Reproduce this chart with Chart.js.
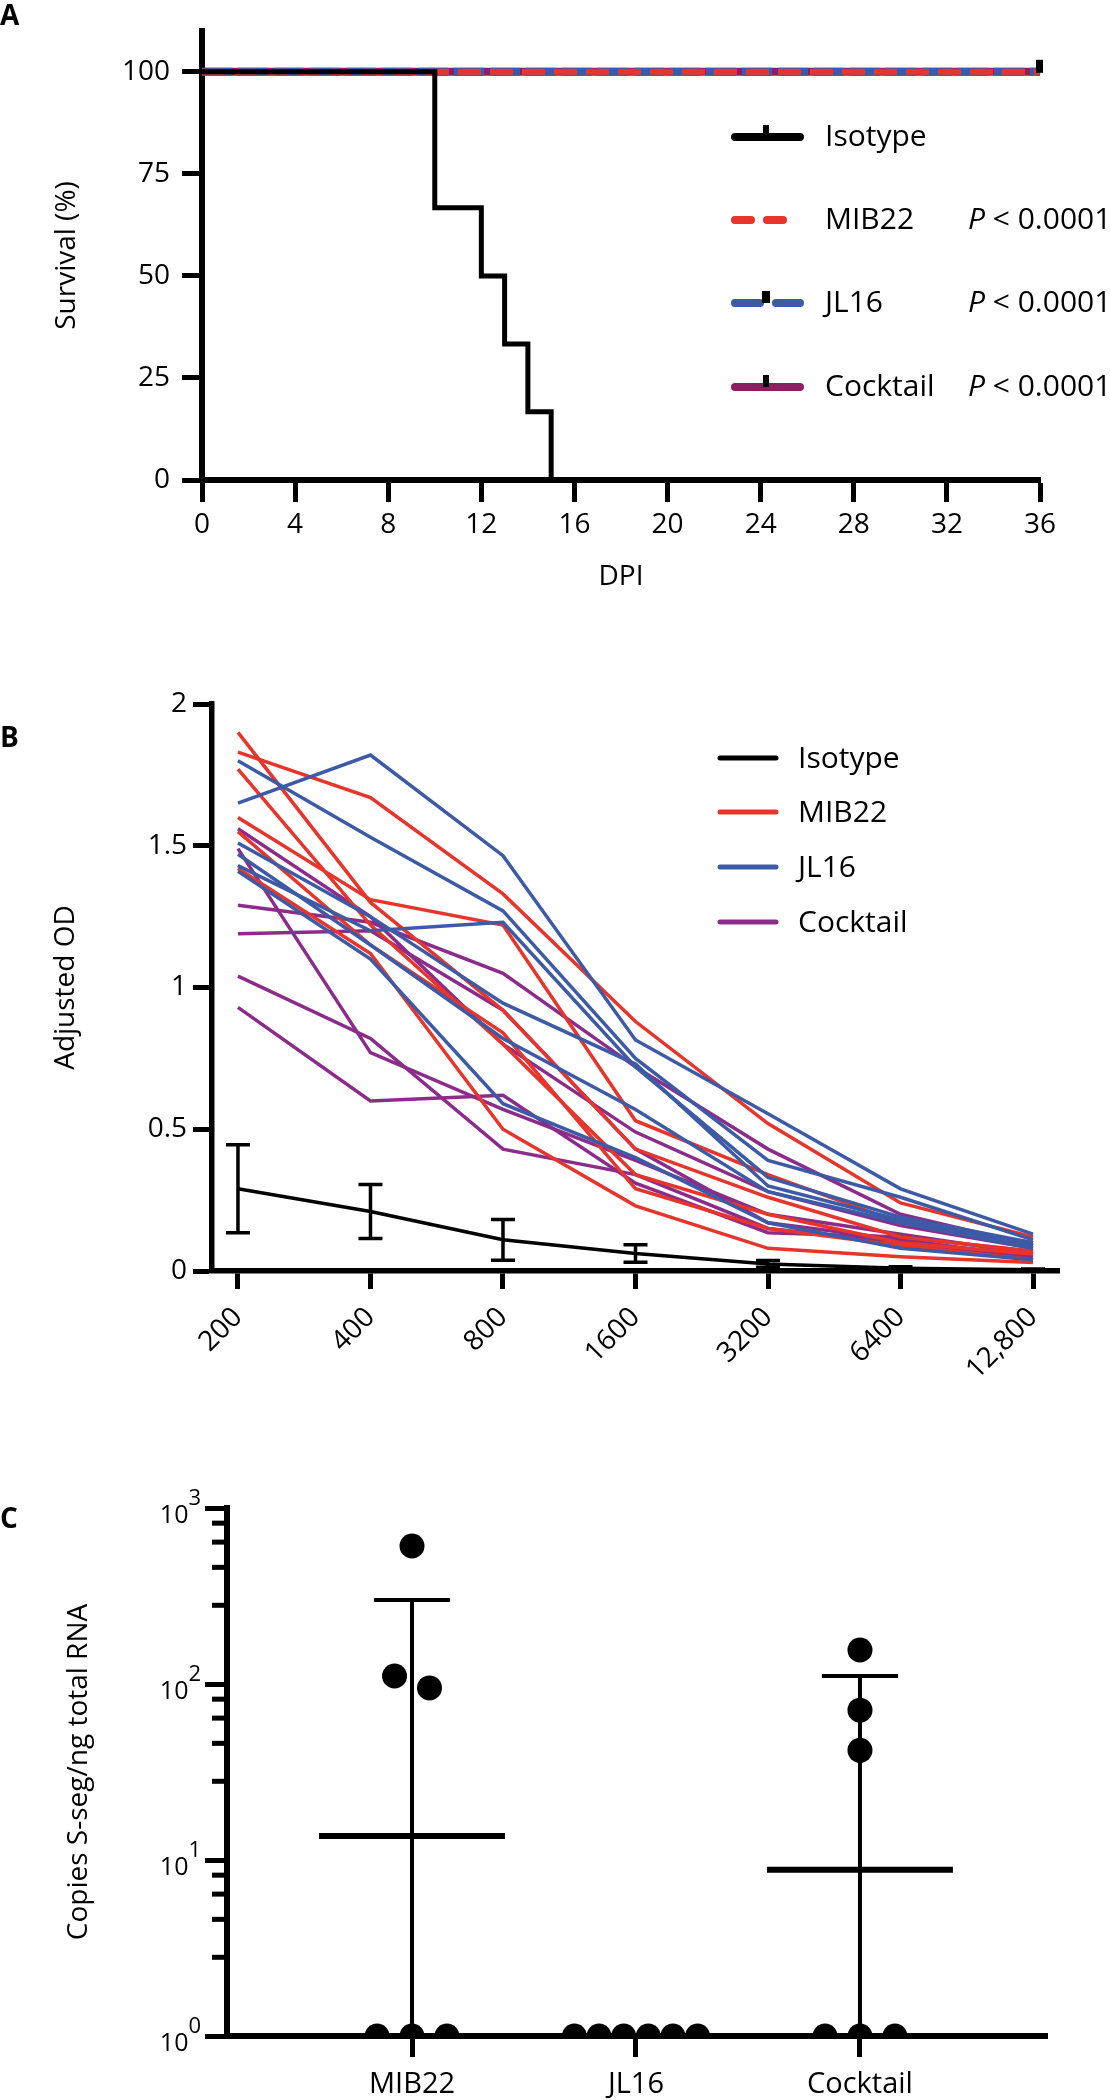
<!DOCTYPE html>
<html>
<head>
<meta charset="utf-8">
<script src="https://cdn.jsdelivr.net/npm/chart.js@4/dist/chart.umd.min.js"></script>
<style>
body { margin: 0; background: #fff; }
#wrap { position: relative; width: 1110px; height: 2100px; overflow: hidden; }
canvas { position: absolute; left: 0; }
</style>
</head>
<body>
<div id="wrap">
	<canvas id="survivalChart" width="1110" height="620" style="top:0px"></canvas>
	<canvas id="odChart" width="1110" height="780" style="top:620px"></canvas>
	<canvas id="rnaChart" width="1110" height="700" style="top:1400px"></canvas>
</div>
<script>
const FONT = "'Open Sans', 'Noto Sans', sans-serif";
Chart.defaults.font.family = FONT;
Chart.defaults.color = '#000';

const RED = '#e8342a';
const BLUE = '#3d5aa7';
const PURPLE = '#8b2c8a';
const MAGENTA = '#8e1d62';

// ---- A : survival
const survivalNames = ['Isotype', 'MIB22', 'JL16', 'Cocktail'];
const survivalP = ['', '< 0.0001', '< 0.0001', '< 0.0001'];
const isotypeDays = [0, 10, 12, 13, 14, 15];
const isotypeSurvival = [100, 66.7, 50, 33.3, 16.7, 0];
const treatedDays = [0, 36];
const treatedSurvival = [100, 100];
const survivalTicks = [0, 25, 50, 75, 100];

// ---- B : ELISA, one row per animal
const dilutions = ['200', '400', '800', '1600', '3200', '6400', '12,800'];
const mib22OD = [
	[1.83, 1.67, 1.33, 0.88, 0.52, 0.24, 0.12],
	[1.60, 1.31, 1.22, 0.53, 0.34, 0.17, 0.10],
	[1.90, 1.30, 0.92, 0.43, 0.26, 0.12, 0.07],
	[1.77, 1.22, 0.80, 0.34, 0.20, 0.10, 0.06],
	[1.55, 1.15, 0.84, 0.29, 0.15, 0.09, 0.04],
	[1.42, 1.12, 0.50, 0.23, 0.08, 0.05, 0.03]
];
const jl16OD = [
	[1.65, 1.82, 1.465, 0.815, 0.555, 0.29, 0.13],
	[1.80, 1.53, 1.27, 0.75, 0.39, 0.26, 0.11],
	[1.43, 1.20, 1.23, 0.72, 0.33, 0.19, 0.10],
	[1.51, 1.25, 0.945, 0.73, 0.30, 0.18, 0.09],
	[1.47, 1.15, 0.82, 0.57, 0.28, 0.17, 0.08],
	[1.41, 1.10, 0.59, 0.40, 0.17, 0.08, 0.04]
];
const cocktailOD = [
	[1.56, 1.25, 0.80, 0.49, 0.28, 0.16, 0.08],
	[1.49, 0.77, 0.57, 0.39, 0.20, 0.13, 0.06],
	[1.29, 1.23, 1.05, 0.72, 0.43, 0.20, 0.09],
	[1.19, 1.20, 0.92, 0.43, 0.17, 0.11, 0.05],
	[1.04, 0.82, 0.43, 0.34, 0.15, 0.10, 0.04],
	[0.93, 0.60, 0.62, 0.31, 0.135, 0.12, 0.07]
];
const isotypeMean = [0.29, 0.21, 0.11, 0.062, 0.025, 0.01, 0.004];
const isotypeSD = [0.155, 0.095, 0.072, 0.031, 0.012, 0.005, 0.003];
const odNames = ['Isotype', 'MIB22', 'JL16', 'Cocktail'];
const odColors = ['#000', RED, BLUE, PURPLE];
const odTicks = [0, 0.5, 1, 1.5, 2];

// ---- C : viral RNA
const rnaGroups = ['MIB22', 'JL16', 'Cocktail'];
const mib22Copies = [1, 1, 1, 608, 111, 95];
const jl16Copies = [1, 1, 1, 1, 1, 1];
const cocktailCopies = [1, 1, 1, 156, 71, 42];
const rnaGeoMean = [13.7, 1, 8.8];
const rnaUpper = [300, 1, 111];
const logTicks = [1, 10, 100, 1000];

const tickFont = { family: FONT, size: 28 };

function xy(xs, ys)
{
	return xs.map((x, i) => ({ x: x, y: ys[i] }));
}

// points that would sit on top of each other are put side by side
function spreadX(vals, idx)
{
	const used = vals.map(() => false);
	const out = [];
	vals.forEach((v, i) => {
		if (used[i]) return;
		const grp = vals.map((w, j) => j).filter(j => !used[j] && Math.abs(Math.log10(vals[j]) - Math.log10(v)) < 0.12);
		grp.forEach(j => used[j] = true);
		const step = grp.length > 3 ? 0.11 : 0.156;
		grp.forEach((j, k) => out.push({ x: idx + (k - (grp.length - 1) / 2) * step, y: vals[j] }));
	});
	return out;
}

function tickGrid(len, w)
{
	return { drawOnChartArea: false, drawTicks: true, tickLength: len, tickWidth: w, tickColor: '#000', color: '#000' };
}

function panelLetter(ctx, letter, x, y)
{
	ctx.font = 'bold 28px ' + FONT;
	ctx.fillStyle = '#000';
	ctx.textAlign = 'left';
	ctx.textBaseline = 'middle';
	ctx.fillText(letter, x, y);
}

/* ---------------- A ---------------- */
const survivalExtras = {
	id: 'survivalExtras',
	afterDatasetsDraw(chart)
	{
		const { ctx, scales: { x, y } } = chart;
		const cx = x.getPixelForValue(treatedDays[treatedDays.length - 1]);
		const cy = y.getPixelForValue(treatedSurvival[treatedSurvival.length - 1]);
		ctx.save();
		ctx.fillStyle = '#000';
		ctx.fillRect(cx - 4, cy - 12, 7, 13); // censored at end of study
		ctx.restore();
	},
	afterDraw(chart)
	{
		const ctx = chart.ctx;
		ctx.save();
		panelLetter(ctx, 'A', 0, 17);
		const rows = [137, 220, 303, 387];
		const x0 = 731, x1 = 800, xm = 766;
		const colors = ['#000', RED, BLUE, MAGENTA];
		survivalNames.forEach((name, i) => {
			const ry = rows[i];
			ctx.strokeStyle = colors[i];
			ctx.lineWidth = 8;
			ctx.lineCap = 'round';
			ctx.beginPath();
			if (i === 1) {
				ctx.moveTo(x0 + 4, ry); ctx.lineTo(x0 + 20, ry);
				ctx.moveTo(x0 + 36, ry); ctx.lineTo(x0 + 52, ry);
			} else if (i === 2) {
				ctx.moveTo(x0 + 4, ry); ctx.lineTo(xm - 6, ry);
				ctx.moveTo(xm + 10, ry); ctx.lineTo(x1, ry);
			} else {
				ctx.moveTo(x0 + 4, ry); ctx.lineTo(x1, ry);
			}
			ctx.stroke();
			ctx.fillStyle = '#000';
			if (i === 2) ctx.fillRect(xm - 4, ry - 12, 8, 12);
			else if (i !== 1) ctx.fillRect(xm - 3, ry - 12, 6, 12);

			ctx.textAlign = 'left';
			ctx.textBaseline = 'alphabetic';
			ctx.font = '30px ' + FONT;
			ctx.fillText(name, 825, ry + 9);
			if (survivalP[i]) {
				ctx.font = 'italic 30px ' + FONT;
				ctx.fillText('P', 968, ry + 9);
				const w = ctx.measureText('P').width;
				ctx.font = '30px ' + FONT;
				ctx.fillText(' ' + survivalP[i], 968 + w, ry + 9);
			}
		});
		ctx.restore();
	}
};

// first dataset ends up on top
new Chart(document.getElementById('survivalChart'), {
	type: 'line',
	data: {
		datasets: [
			{ label: 'Isotype', data: xy(isotypeDays, isotypeSurvival), borderColor: '#000', borderWidth: 5, stepped: 'before' },
			{ label: 'MIB22', data: xy(treatedDays, treatedSurvival), borderColor: RED, borderWidth: 6, borderDash: [23, 9] },
			{ label: 'JL16', data: xy(treatedDays, treatedSurvival), borderColor: BLUE, borderWidth: 8, borderDash: [30, 6] },
			{ label: 'Cocktail', data: xy(treatedDays, treatedSurvival), borderColor: MAGENTA, borderWidth: 8 }
		]
	},
	options: {
		responsive: false,
		animation: false,
		layout: { padding: { top: 31, right: 70, bottom: 0, left: 0 } },
		elements: { point: { radius: 0 }, line: { tension: 0, fill: false } },
		plugins: { legend: { display: false }, tooltip: { enabled: false } },
		scales: {
			x: {
				type: 'linear', min: 0, max: 36,
				ticks: { stepSize: 4, font: tickFont, padding: 6, color: '#000' },
				grid: tickGrid(22, 5),
				border: { color: '#000', width: 6 },
				title: { display: true, text: 'DPI', font: tickFont, color: '#000', padding: { top: 0, bottom: 26 } },
				afterFit: s => { s.height = 140; }
			},
			y: {
				type: 'linear', min: 0, max: 110,
				afterBuildTicks: s => { s.ticks = survivalTicks.map(v => ({ value: v })); },
				ticks: { font: tickFont, padding: 12, color: '#000' },
				grid: tickGrid(20, 5),
				border: { color: '#000', width: 6 },
				title: { display: true, text: 'Survival (%)', font: tickFont, color: '#000', padding: { top: 50, bottom: 0 } },
				afterFit: s => { s.width = 202; }
			}
		}
	},
	plugins: [survivalExtras]
});

/* ---------------- B ---------------- */
const odDatasets = [];
odDatasets.push({ data: isotypeMean.map((v, i) => ({ x: i, y: v })), borderColor: '#000', borderWidth: 3.5 });
[[jl16OD, BLUE], [mib22OD, RED], [cocktailOD, PURPLE]].forEach(([rows, color]) => {
	rows.forEach(row => {
		odDatasets.push({ data: row.map((v, i) => ({ x: i, y: v })), borderColor: color, borderWidth: 3.5 });
	});
});

const odExtras = {
	id: 'odExtras',
	afterDatasetsDraw(chart)
	{
		const { ctx, scales: { x, y } } = chart;
		ctx.save();
		ctx.strokeStyle = '#000';
		ctx.lineWidth = 3.5;
		isotypeMean.forEach((m, i) => {
			const px = x.getPixelForValue(i);
			const top = y.getPixelForValue(m + isotypeSD[i]);
			const bot = y.getPixelForValue(Math.max(m - isotypeSD[i], 0));
			ctx.beginPath();
			ctx.moveTo(px, top); ctx.lineTo(px, bot);
			ctx.moveTo(px - 12, top); ctx.lineTo(px + 12, top);
			ctx.moveTo(px - 12, bot); ctx.lineTo(px + 12, bot);
			ctx.stroke();
		});
		ctx.restore();
	},
	afterDraw(chart)
	{
		const ctx = chart.ctx;
		ctx.save();
		panelLetter(ctx, 'B', 0, 119);
		const rows = [138, 192, 247, 302];
		odNames.forEach((name, i) => {
			ctx.strokeStyle = odColors[i];
			ctx.lineWidth = 5;
			ctx.lineCap = 'round';
			ctx.beginPath();
			ctx.moveTo(720, rows[i]); ctx.lineTo(776, rows[i]);
			ctx.stroke();
			ctx.fillStyle = '#000';
			ctx.font = '30px ' + FONT;
			ctx.textAlign = 'left';
			ctx.textBaseline = 'alphabetic';
			ctx.fillText(name, 798, rows[i] + 10);
		});
		ctx.restore();
	}
};

new Chart(document.getElementById('odChart'), {
	type: 'line',
	data: { datasets: odDatasets },
	options: {
		responsive: false,
		animation: false,
		layout: { padding: { top: 84, right: 51, bottom: 0, left: 0 } },
		elements: { point: { radius: 0 }, line: { tension: 0, fill: false } },
		plugins: { legend: { display: false }, tooltip: { enabled: false } },
		scales: {
			x: {
				type: 'linear', min: -0.196, max: 6.196,
				afterBuildTicks: s => { s.ticks = dilutions.map((d, i) => ({ value: i })); },
				ticks: { font: tickFont, padding: 12, color: '#000', autoSkip: false, minRotation: 45, maxRotation: 45,
					callback: v => dilutions[v] },
				grid: tickGrid(18, 5),
				border: { color: '#000', width: 5.5 },
				afterFit: s => { s.height = 129; }
			},
			y: {
				type: 'linear', min: 0, max: 2,
				afterBuildTicks: s => { s.ticks = odTicks.map(v => ({ value: v })); },
				ticks: { font: tickFont, padding: 6, color: '#000', callback: v => String(v) },
				grid: tickGrid(19, 5),
				border: { color: '#000', width: 5.5 },
				title: { display: true, text: 'Adjusted OD', font: tickFont, color: '#000', padding: { top: 49, bottom: 0 } },
				afterFit: s => { s.width = 212; }
			}
		}
	},
	plugins: [odExtras]
});

/* ---------------- C ---------------- */
const rnaExtras = {
	id: 'rnaExtras',
	beforeDatasetsDraw(chart)
	{
		const { ctx, chartArea, scales: { x, y } } = chart;
		ctx.save();
		ctx.strokeStyle = '#000';
		rnaGroups.forEach((g, i) => {
			if (rnaGeoMean[i] <= y.min) return;
			const px = x.getPixelForValue(i);
			const pm = y.getPixelForValue(rnaGeoMean[i]);
			const pu = y.getPixelForValue(rnaUpper[i]);
			ctx.lineWidth = 4;
			ctx.beginPath();
			ctx.moveTo(px, pu); ctx.lineTo(px, chartArea.bottom);
			ctx.moveTo(x.getPixelForValue(i - 0.17), pu); ctx.lineTo(x.getPixelForValue(i + 0.17), pu);
			ctx.stroke();
			ctx.lineWidth = 6;
			ctx.beginPath();
			ctx.moveTo(x.getPixelForValue(i - 0.415), pm); ctx.lineTo(x.getPixelForValue(i + 0.415), pm);
			ctx.stroke();
		});
		ctx.restore();
	},
	afterDraw(chart)
	{
		const { ctx, chartArea, scales: { y } } = chart;
		ctx.save();
		panelLetter(ctx, 'C', 0, 120);
		// minor ticks: four evenly spaced ones in each decade
		ctx.fillStyle = '#000';
		for (let d = 0; d < logTicks.length - 1; d++) {
			for (let j = 1; j <= 4; j++) {
				const py = y.getPixelForValue(logTicks[d] * (1 + j * 9 / 5));
				ctx.fillRect(chartArea.left - 15, py - 2.5, 15, 5);
			}
		}
		// tick labels as 10 with a raised exponent
		logTicks.forEach(v => {
			const py = y.getPixelForValue(v);
			const ex = String(Math.round(Math.log10(v)));
			ctx.textAlign = 'right';
			ctx.textBaseline = 'middle';
			ctx.font = '22px ' + FONT;
			ctx.fillText(ex, 201, py - 9);
			const w = ctx.measureText(ex).width;
			ctx.font = '25px ' + FONT;
			ctx.fillText('10', 201 - w, py + 8);
		});
		ctx.restore();
	}
};

new Chart(document.getElementById('rnaChart'), {
	type: 'scatter',
	data: {
		datasets: [mib22Copies, jl16Copies, cocktailCopies].map((vals, i) => ({
			label: rnaGroups[i],
			data: spreadX(vals, i),
			backgroundColor: '#000',
			borderWidth: 0,
			pointRadius: 12.5
		}))
	},
	options: {
		responsive: false,
		animation: false,
		layout: { padding: { top: 108, right: 63, bottom: 0, left: 0 } },
		plugins: { legend: { display: false }, tooltip: { enabled: false } },
		scales: {
			x: {
				type: 'linear', min: -0.826, max: 2.835,
				afterBuildTicks: s => { s.ticks = rnaGroups.map((g, i) => ({ value: i })); },
				ticks: { font: { family: FONT, size: 29 }, padding: 10, color: '#000', callback: v => rnaGroups[v] },
				grid: tickGrid(21, 5),
				border: { color: '#000', width: 6 },
				afterFit: s => { s.height = 64; }
			},
			y: {
				type: 'logarithmic', min: 1, max: 1000,
				afterBuildTicks: s => { s.ticks = logTicks.map(v => ({ value: v })); },
				ticks: { display: false },
				grid: tickGrid(22, 5),
				border: { color: '#000', width: 6 },
				title: { display: true, text: 'Copies S-seg/ng total RNA', font: tickFont, color: '#000', padding: { top: 62, bottom: 0 } },
				afterFit: s => { s.width = 227; }
			}
		}
	},
	plugins: [rnaExtras]
});
</script>
</body>
</html>
